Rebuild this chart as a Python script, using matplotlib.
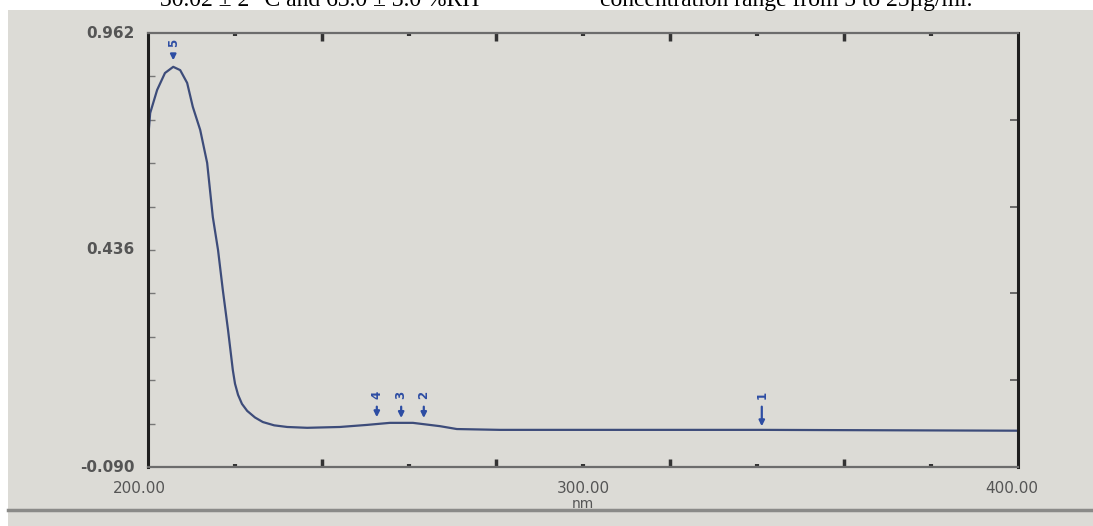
import matplotlib
matplotlib.use("Agg")
import matplotlib.pyplot as plt
import matplotlib.transforms as mtransforms
from matplotlib.patches import Rectangle

# spectrum (nm, absorbance)
wavelength = [200.0, 200.5, 202.1, 203.9, 205.8, 207.4, 209.0, 210.3, 212.0, 213.6,
              214.9, 216.1, 217.2, 218.4, 219.5, 220.0, 220.7, 221.6, 222.8, 224.6,
              226.4, 229.0, 232.0, 236.6, 244.1, 250.3, 255.6, 260.9, 267.1, 271.0,
              280.9, 303.9, 341.1, 400.0]
absorbance = [0.703, 0.768, 0.824, 0.865, 0.880, 0.872, 0.841, 0.783, 0.727, 0.647,
              0.516, 0.436, 0.339, 0.242, 0.145, 0.112, 0.085, 0.063, 0.046, 0.030,
              0.019, 0.011, 0.007, 0.005, 0.007, 0.012, 0.017, 0.017, 0.009, 0.002,
              0.000, 0.000, 0.000, -0.002]

peak_wl = [205.8, 252.6, 258.2, 263.4, 341.1]
peak_abs = [0.889, 0.024, 0.022, 0.022, 0.002]
peak_labels = ["5", "4", "3", "2", "1"]

y_min, y_max = -0.090, 0.962
y_labels = ["-0.090", "0.436", "0.962"]
x_labels = ["200.00", "300.00", "400.00"]

photo_bg = "#dcdbd6"
ink = "#555555"
curve_col = "#3d4c7a"
mark_col = "#2d4da3"

fig = plt.figure(figsize=(10.93, 5.26), dpi=100, facecolor="white")
# the photographed screen
fig.patches.append(Rectangle((8 / 1093, 0), 1, 1 - 10 / 526, transform=fig.transFigure,
                             facecolor=photo_bg, edgecolor="none", zorder=-5))
# screen edge near the bottom
fig.add_artist(plt.Line2D([8 / 1093, 1], [1 - 510 / 526] * 2, transform=fig.transFigure,
                          color="#8a8a88", lw=2.5))

# caption text of the page above the photo (cut off by the crop, as in the source)
fig.text(160 / 1093, 1 - 6 / 526, "30.02 ± 2 °C and 63.0 ± 3.0 %RH", family="Liberation Serif",
         fontsize=17, va="baseline", ha="left", color="black")
fig.text(600 / 1093, 1 - 6 / 526, "concentration range from 5 to 25µg/ml.", family="Liberation Serif",
         fontsize=17, va="baseline", ha="left", color="black")

ax = fig.add_axes([148 / 1093, 1 - 467 / 526, 870 / 1093, 434 / 526])
ax.set_facecolor(photo_bg)
ax.plot(wavelength, absorbance, color=curve_col, lw=1.6)
ax.set_xlim(200, 400)
ax.set_ylim(y_min, y_max)

for s in ["left", "right"]:
    ax.spines[s].set_linewidth(2.2)
    ax.spines[s].set_color("#1e1e1e")
for s in ["top", "bottom"]:
    ax.spines[s].set_linewidth(1.6)
    ax.spines[s].set_color("#6c6c6c")

# x ticks: bars every 40 nm, dots in between
ax.set_xticks([240, 280, 320, 360])
ax.set_xticks([220, 260, 300, 340, 380], minor=True)
ax.tick_params(axis="x", which="major", direction="in", length=6, width=2.5, color="#333333",
               top=True, bottom=True, labelbottom=False)
ax.tick_params(axis="x", which="minor", direction="in", length=2, width=3, color="#333333",
               top=True, bottom=True)

# y ticks: small dashes every tenth of the range on the left
step = (y_max - y_min) / 10
ax.set_yticks([y_min + k * step for k in range(1, 10)])
ax.tick_params(axis="y", which="major", direction="in", length=5, width=1, color="#777777",
               left=True, right=False, labelleft=False)
ax2 = ax.secondary_yaxis("right")
ax2.set_yticks([y_min + k * step for k in (2, 4, 6, 8)])
ax2.tick_params(direction="in", length=6, width=1.2, color="#555555", labelright=False)

# axis labels drawn as on the instrument
ax.text(-0.015, 0.0, y_labels[0], transform=ax.transAxes, ha="right", va="center",
        fontsize=11, color=ink, fontweight="bold")
ax.text(-0.015, 0.5, y_labels[1], transform=ax.transAxes, ha="right", va="center",
        fontsize=11, color=ink, fontweight="bold")
ax.text(-0.015, 1.0, y_labels[2], transform=ax.transAxes, ha="right", va="center",
        fontsize=11, color=ink, fontweight="bold")
trans = mtransforms.blended_transform_factory(ax.transData, ax.transAxes)
for xv, lab, dx in zip([200, 300, 400], x_labels, [-2, 0, -1.5]):
    ax.text(xv + dx, -0.05, lab, transform=trans, ha="center", va="center",
            fontsize=11, color=ink)
ax.text(300, -0.085, "nm", transform=trans, ha="center", va="center", fontsize=10, color=ink)

# peak pick markers
for wl, a, lab in zip(peak_wl, peak_abs, peak_labels):
    top = 0.938 if lab == "5" else 0.085
    ax.annotate("", xy=(wl, a), xytext=(wl, top - 0.022),
                arrowprops=dict(arrowstyle="-|>", color=mark_col, lw=1.6, mutation_scale=8))
    ax.text(wl, top, lab, rotation=90, ha="center", va="center", fontsize=8.5,
            color=mark_col, fontweight="bold")

fig.savefig("out.png", dpi=100, facecolor=fig.get_facecolor())
